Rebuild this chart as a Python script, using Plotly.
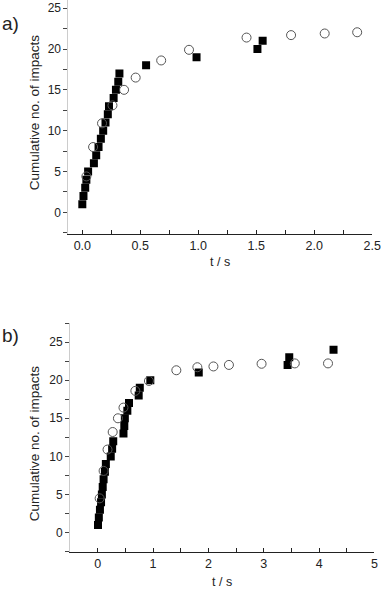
import plotly.graph_objects as go

# Panel a) data
a_sq_t = [0.0, 0.01, 0.025, 0.035, 0.05, 0.10, 0.12, 0.14, 0.16, 0.18, 0.20, 0.22, 0.23, 0.27, 0.29, 0.31, 0.32, 0.55, 0.985, 1.51, 1.555]
a_sq_n = [1, 2, 3, 4, 5, 6, 7, 8, 9, 10, 11, 12, 13, 14, 15, 16, 17, 18, 19, 20, 21]
a_ci_t = [0.035, 0.093, 0.17, 0.26, 0.36, 0.46, 0.68, 0.92, 1.416, 1.80, 2.09, 2.37]
a_ci_n = [4.4, 8.0, 10.9, 13.1, 15.0, 16.5, 18.6, 19.9, 21.4, 21.7, 21.9, 22.05]

# Panel b) data
b_sq_t = [0.005, 0.02, 0.04, 0.06, 0.075, 0.09, 0.106, 0.13, 0.147, 0.235, 0.26, 0.28, 0.465, 0.48, 0.49, 0.535, 0.565, 0.74, 0.76, 0.95, 1.825, 3.43, 3.46, 4.26]
b_sq_n = [1, 2, 3, 4, 5, 6, 7, 8, 9, 10, 11, 12, 13, 14, 15, 16, 17, 18, 19, 20, 21, 22, 23, 24]
b_ci_t = [0.035, 0.106, 0.177, 0.27, 0.365, 0.465, 0.68, 0.925, 1.42, 1.80, 2.09, 2.37, 2.96, 3.56, 4.16]
b_ci_n = [4.5, 8.1, 10.9, 13.2, 15.0, 16.4, 18.6, 19.9, 21.3, 21.7, 21.8, 22.0, 22.15, 22.2, 22.2]

FONT = "Liberation Sans, Arial, sans-serif"
W, H = 392, 590

fig = go.Figure()

sq_marker = dict(symbol="square", size=8, color="black", line=dict(width=0))
ci_marker = dict(symbol="circle-open", size=9, color="#555555", line=dict(width=1))

fig.add_trace(go.Scatter(x=a_sq_t, y=a_sq_n, mode="markers", marker=sq_marker, xaxis="x", yaxis="y", showlegend=False))
fig.add_trace(go.Scatter(x=a_ci_t, y=a_ci_n, mode="markers", marker=ci_marker, xaxis="x", yaxis="y", showlegend=False))
fig.add_trace(go.Scatter(x=b_sq_t, y=b_sq_n, mode="markers", marker=sq_marker, xaxis="x2", yaxis="y2", showlegend=False))
fig.add_trace(go.Scatter(x=b_ci_t, y=b_ci_n, mode="markers", marker=ci_marker, xaxis="x2", yaxis="y2", showlegend=False))

xcommon = dict(showline=True, linecolor="#222222", linewidth=1, ticks="inside", ticklen=4,
               tickcolor="#222222", showgrid=False, zeroline=False,
               tickfont=dict(family=FONT, size=12.5, color="#222222"))
ycommon = dict(showline=True, linecolor="#cccccc", linewidth=1, ticks="outside", ticklen=4,
               tickcolor="#444444", showgrid=False, zeroline=False, dtick=5, tick0=0,
               tickfont=dict(family=FONT, size=12, color="#222222"),
               minor=dict(ticks="outside", ticklen=4, tickcolor="#444444", dtick=2.5, tick0=0))

fig.update_layout(
    width=W, height=H, margin=dict(l=0, r=0, t=0, b=0),
    paper_bgcolor="white", plot_bgcolor="white",
    xaxis=dict(xcommon, domain=[70/W, 381/W], range=[-0.12, 2.5], dtick=0.5, tick0=0, tickformat=".1f",
               minor=dict(ticks="inside", ticklen=4, tickcolor="#222222", dtick=0.25, tick0=0),
               anchor="y"),
    yaxis=dict(ycommon, domain=[1 - 234/H, 1.0], range=[-2.65, 26], anchor="x"),
    xaxis2=dict(xcommon, domain=[71.7/W, 383.3/W], range=[-0.5, 5], dtick=1, tick0=0,
                minor=dict(ticks="inside", ticklen=4, tickcolor="#222222", dtick=0.5, tick0=0),
                anchor="y2"),
    yaxis2=dict(ycommon, domain=[1 - 551.7/H, 1 - 323/H], range=[-2.5, 27.5], anchor="x2"),
)

annots = [
    dict(text="a)", x=0, y=1 - 23/H, xanchor="left", yanchor="middle", font=dict(size=19)),
    dict(text="b)", x=0, y=1 - 335/H, xanchor="left", yanchor="middle", font=dict(size=19)),
    dict(text="Cumulative no. of impacts", x=35/W, y=1 - 112/H, textangle=-90, xanchor="center", yanchor="middle", font=dict(size=13.5)),
    dict(text="Cumulative no. of impacts", x=35/W, y=1 - 443/H, textangle=-90, xanchor="center", yanchor="middle", font=dict(size=13.5)),
    dict(text="t / s", x=225/W, y=1 - 262/H, xanchor="center", yanchor="middle", font=dict(size=12.5)),
    dict(text="t / s", x=227/W, y=1 - 582/H, xanchor="center", yanchor="middle", font=dict(size=12.5)),
]
for a in annots:
    a.update(xref="paper", yref="paper", showarrow=False)
    a["font"].update(family=FONT, color="#222222")
fig.update_layout(annotations=annots)

fig.write_html("out.html", config={"displayModeBar": False},
               post_script="document.body.style.margin='0';document.body.style.overflow='hidden';")
